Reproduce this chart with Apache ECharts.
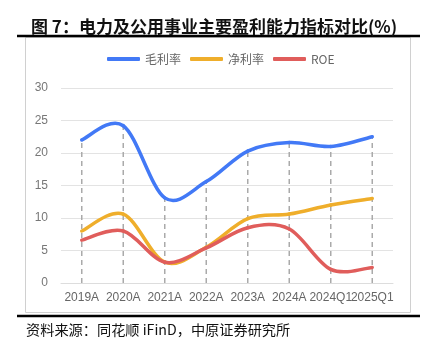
<!DOCTYPE html>
<html><head><meta charset="utf-8">
<script src="https://cdn.jsdelivr.net/npm/echarts@6/dist/echarts.min.js"></script>
<style>html,body{margin:0;padding:0;background:#fff}#c{width:431px;height:345px}</style>
</head><body><div id="c"></div>
<script>
const categories = ['2019A','2020A','2021A','2022A','2023A','2024A','2024Q1','2025Q1'];
const grossMargin = [22.0, 24.2, 13.1, 15.6, 20.3, 21.6, 21.0, 22.5];
const netMargin = [8.0, 10.6, 3.2, 5.5, 9.9, 10.6, 12.0, 13.0];
const roe = [6.6, 8.0, 3.2, 5.4, 8.5, 8.3, 2.1, 2.4];
const yTicks = [0, 5, 10, 15, 20, 25, 30];

const topValues = categories.map((c, i) => Math.max(grossMargin[i], netMargin[i], roe[i]));

function smoothRenderer(arr, color) {
  return function (params, api) {
    if (params.dataIndex !== 0) return null;
    const pts = arr.map((v, i) => api.coord([i, v]));
    const children = [];
    for (let i = 0; i < pts.length - 1; i++) {
      const p0 = pts[Math.max(i - 1, 0)], p1 = pts[i], p2 = pts[i + 1], p3 = pts[Math.min(i + 2, pts.length - 1)];
      children.push({
        type: 'bezierCurve',
        shape: {
          x1: p1[0], y1: p1[1], x2: p2[0], y2: p2[1],
          cpx1: p1[0] + (p2[0] - p0[0]) / 6, cpy1: p1[1] + (p2[1] - p0[1]) / 6,
          cpx2: p2[0] - (p3[0] - p1[0]) / 6, cpy2: p2[1] - (p3[1] - p1[1]) / 6
        },
        style: {stroke: color, lineWidth: 3.5, fill: null, lineCap: 'round'}
      });
    }
    return {type: 'group', children: children};
  };
}

const chart = echarts.init(document.getElementById('c'));
chart.setOption({
  animation: false,
  title: {
    text: '图 7：电力及公用事业主要盈利能力指标对比(%)',
    left: 26, top: 13,
    textStyle: {fontFamily: 'Noto Sans CJK SC', fontSize: 17, fontWeight: 'bold', color: '#111'}
  },
  graphic: [
    {type: 'rect', shape: {x: 25.5, y: 37.5, width: 385, height: 275}, style: {fill: 'none', stroke: '#d0d0d0', lineWidth: 1}, z: -1},
    {type: 'line', shape: {x1: 17, y1: 36, x2: 420, y2: 36}, style: {stroke: '#000', lineWidth: 2.5}},
    {type: 'line', shape: {x1: 17, y1: 316, x2: 420, y2: 316}, style: {stroke: '#000', lineWidth: 2.5}},
    {type: 'text', left: 26, top: 323, style: {text: '资料来源：同花顺 iFinD，中原证券研究所', fontFamily: 'Noto Sans CJK SC', fontSize: 14.2, fill: '#111'}}
  ],
  legend: {
    top: 48, left: 102,
    itemWidth: 33, itemHeight: 4, itemGap: 9,
    icon: 'roundRect',
    textStyle: {color: '#666', fontSize: 12, fontFamily: 'Noto Sans CJK SC'},
    data: ['毛利率', '净利率', 'ROE']
  },
  grid: {left: 61, right: 38, top: 88, bottom: 62},
  xAxis: {
    type: 'category', data: categories, boundaryGap: true,
    axisLine: {lineStyle: {color: '#ddd'}},
    axisTick: {show: false},
    axisLabel: {color: '#666', fontSize: 12, fontFamily: 'Liberation Sans', margin: 9, interval: 0}
  },
  yAxis: {
    type: 'value', min: yTicks[0], max: yTicks[yTicks.length - 1], interval: 5,
    axisLine: {show: false}, axisTick: {show: false},
    axisLabel: {color: '#777', fontSize: 12, fontFamily: 'Liberation Sans', margin: 13},
    splitLine: {lineStyle: {color: '#e3e3e3', width: 1}}
  },
  series: [
    {name: 'drop', type: 'custom', data: topValues, silent: true, z: 1,
     renderItem: function (params, api) {
       const i = params.dataIndex;
       const a = api.coord([i, 0]), b = api.coord([i, api.value(1)]);
       return {type: 'line', shape: {x1: a[0], y1: a[1], x2: b[0], y2: b[1]},
               style: {stroke: '#aaa', lineWidth: 1.5, lineDash: [5, 4]}};
     },
     encode: {x: 0, y: 1}},
    {name: '毛利率', type: 'custom', data: grossMargin, z: 3,
     itemStyle: {color: '#4279F6'}, renderItem: smoothRenderer(grossMargin, '#4279F6')},
    {name: '净利率', type: 'custom', data: netMargin, z: 3,
     itemStyle: {color: '#EFAE2B'}, renderItem: smoothRenderer(netMargin, '#EFAE2B')},
    {name: 'ROE', type: 'custom', data: roe, z: 4,
     itemStyle: {color: '#E05D5B'}, renderItem: smoothRenderer(roe, '#E05D5B')}
  ]
});
</script></body></html>
